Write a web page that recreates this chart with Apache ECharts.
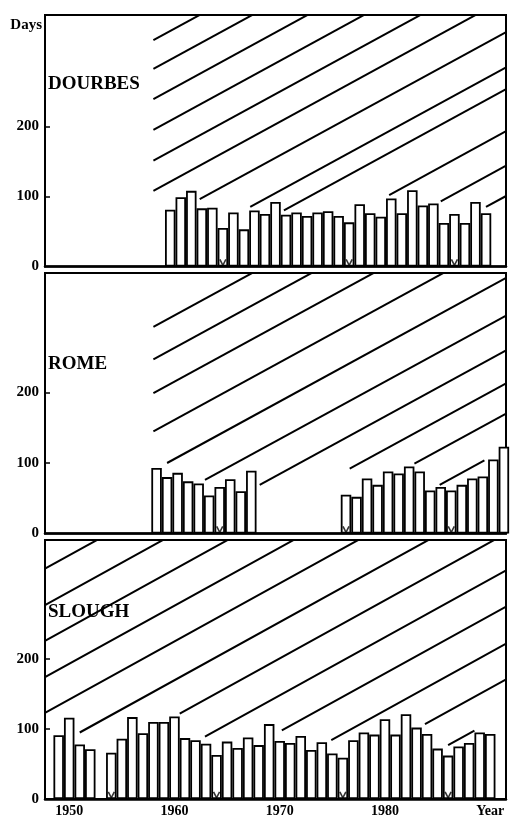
<!DOCTYPE html>
<html>
<head>
<meta charset="utf-8">
<script src="https://cdn.jsdelivr.net/npm/echarts@6/dist/echarts.min.js"></script>
<style>
  html, body { margin: 0; padding: 0; background: #fff; }
  #chart { width: 511px; height: 818px; }
</style>
</head>
<body>
<div id="chart"></div>
<script>
// yearly counts (days)
const dourbesYears = [1959, 1960, 1961, 1962, 1963, 1964, 1965, 1966, 1967, 1968, 1969, 1970, 1971, 1972, 1973, 1974,
  1975, 1976, 1977, 1978, 1979, 1980, 1981, 1982, 1983, 1984, 1985, 1986, 1987, 1988, 1989];
const dourbesDays = [81, 99, 108, 83, 84, 55, 77, 53, 80, 75, 92, 74, 77, 72, 77, 79,
  72, 63, 89, 76, 71, 97, 76, 109, 87, 90, 62, 75, 62, 92, 76];

const romeYears = [1958, 1959, 1960, 1961, 1962, 1963, 1964, 1965, 1966, 1967,
  1976, 1977, 1978, 1979, 1980, 1981, 1982, 1983, 1984, 1985, 1986, 1987, 1988, 1989, 1990, 1991];
const romeDays = [93, 80, 86, 74, 71, 54, 66, 77, 60, 89,
  55, 52, 78, 69, 88, 85, 95, 88, 61, 66, 61, 69, 78, 81, 105, 123];

const sloughYears = [1949, 1950, 1951, 1952, 1954, 1955, 1956, 1957, 1958, 1959, 1960, 1961, 1962, 1963, 1964,
  1965, 1966, 1967, 1968, 1969, 1970, 1971, 1972, 1973, 1974, 1975, 1976, 1977, 1978, 1979, 1980,
  1981, 1982, 1983, 1984, 1985, 1986, 1987, 1988, 1989, 1990];
const sloughDays = [91, 116, 78, 71, 66, 86, 117, 94, 110, 110, 118, 87, 84, 79, 63,
  82, 73, 88, 77, 107, 83, 80, 90, 70, 81, 65, 59, 84, 95, 92, 114,
  92, 121, 102, 93, 72, 62, 75, 80, 95, 93];

// years marked with a small "v" under the bars
const minimaYears = [1954, 1964, 1976, 1986];

// hatching: start of each slanted line (page year, days), optional end year
const dourbesHatchX = [1958.0, 1958.0, 1958.0, 1958.0, 1958.0, 1958.0, 1962.4, 1967.2, 1970.4, 1980.4, 1985.3, 1989.6];
const dourbesHatchY = [323, 282, 239, 195, 151, 108, 96, 85, 80, 102, 93, 85];
const dourbesHatchEnd = [];
const romeHatchX = [1958.0, 1958.0, 1958.0, 1958.0, 1959.3, 1962.9, 1968.1, 1976.65, 1982.8, 1985.2];
const romeHatchY = [293, 247, 199, 145, 100, 76, 69, 92, 99, 69];
const romeHatchEnd = [null, null, null, null, null, null, null, null, null, 1989.45];
const sloughHatchX = [1947.7, 1947.7, 1947.7, 1947.7, 1947.7, 1951.0, 1960.5, 1962.9, 1970.2, 1974.9, 1983.8, 1986.0];
const sloughHatchY = [123, 174, 226, 277, 329, 95, 122, 89, 98, 84, 107, 77];
const sloughHatchEnd = [null, null, null, null, null, null, null, null, null, null, null, 1988.5];

const stationNames = ['DOURBES', 'ROME', 'SLOUGH'];
const yTickValues = [0, 100, 200];
const xTickValues = [1950, 1960, 1970, 1980, 1990];

const FONT = '"Liberation Serif", "DejaVu Serif", serif';
const X_MIN = 1947.7, X_MAX = 1991.5;

let myChart = echarts.init(document.getElementById('chart'));

// panel boxes; shift = how far (in years) the upper panels are drawn offset on the page
const panels = [
  { top: 15, height: 251.5, yMax: 359, slope: 8.2, shift: 0.6, years: dourbesYears, days: dourbesDays,
    hx: dourbesHatchX, hy: dourbesHatchY, he: dourbesHatchEnd, nameTop: 75 },
  { top: 273, height: 260.5, yMax: 369.5, slope: 8.15, shift: 0.3, years: romeYears, days: romeDays,
    hx: romeHatchX, hy: romeHatchY, he: romeHatchEnd, nameTop: 355 },
  { top: 540, height: 259, yMax: 370, slope: 8.3, shift: 0, years: sloughYears, days: sloughDays,
    hx: sloughHatchX, hy: sloughHatchY, he: sloughHatchEnd, nameTop: 603 }
];

let grids = [], xAxes = [], yAxes = [], series = [], titles = [];

panels.forEach(function (p, i) {
  grids.push({
    left: 45, top: p.top, width: 461, height: p.height,
    show: true, borderColor: '#000', borderWidth: 2, backgroundColor: 'transparent'
  });
  const last = i === panels.length - 1;
  xAxes.push({
    gridIndex: i, type: 'value', min: X_MIN - p.shift, max: X_MAX - p.shift,
    splitLine: { show: false },
    axisLine: { show: true, lineStyle: { color: '#000', width: 2.5 } },
    axisTick: { show: false },
    axisLabel: {
      show: last,
      customValues: xTickValues,
      margin: 5,
      color: '#000', fontFamily: FONT, fontWeight: 'bold', fontSize: 14,
      formatter: function (v) { return v === 1990 ? 'Year' : String(v); }
    }
  });
  yAxes.push({
    gridIndex: i, type: 'value', min: 0, max: p.yMax,
    name: i === 0 ? 'Days' : '',
    nameLocation: 'end',
    nameGap: -10,
    nameTextStyle: { color: '#000', fontFamily: FONT, fontWeight: 'bold', fontSize: 15,
      align: 'right', verticalAlign: 'middle', padding: [0, 3, 0, 0] },
    splitLine: { show: false },
    axisLine: { show: true, lineStyle: { color: '#000', width: 2 } },
    axisTick: { show: true, inside: true, length: 5, customValues: [100, 200],
      lineStyle: { color: '#000', width: 1.5 } },
    axisLabel: { customValues: yTickValues, margin: 6, color: '#000',
      fontFamily: FONT, fontWeight: 'bold', fontSize: 15 }
  });
  titles.push({
    text: stationNames[i], left: 48, top: p.nameTop, padding: 0,
    textStyle: { color: '#000', fontFamily: FONT, fontWeight: 'bold', fontSize: 19 }
  });

  // slanted hatch lines, drawn under the white bars
  p.hx.forEach(function (x0, k) {
    const x1 = p.he[k] != null ? p.he[k] : 1997;
    series.push({
      type: 'line', xAxisIndex: i, yAxisIndex: i, symbol: 'none', silent: true, z: 1,
      lineStyle: { color: '#000', width: 2 },
      data: [[x0 - p.shift, p.hy[k]], [x1 - p.shift, p.hy[k] + p.slope * (x1 - x0)]]
    });
  });

  series.push({
    type: 'bar', xAxisIndex: i, yAxisIndex: i, barWidth: 10.5, silent: true, z: 2, clip: true,
    itemStyle: { color: '#fff', borderColor: '#000', borderWidth: 1.8 },
    data: p.years.map(function (y, k) { return [y, p.days[k]]; })
  });

  series.push({
    type: 'scatter', xAxisIndex: i, yAxisIndex: i, silent: true, z: 3,
    symbol: 'path://M0,0L5,9L10,0', symbolSize: [6, 6],
    itemStyle: { color: 'none', borderColor: '#000', borderWidth: 1.6 },
    data: minimaYears.filter(function (y) { return p.years.indexOf(y) >= 0; })
      .map(function (y) { return [y, 6]; })
  });
});

let option = {
  animation: false,
  backgroundColor: '#fff',
  title: titles,
  grid: grids,
  xAxis: xAxes,
  yAxis: yAxes,
  series: series
};
myChart.setOption(option);
</script>
</body>
</html>
